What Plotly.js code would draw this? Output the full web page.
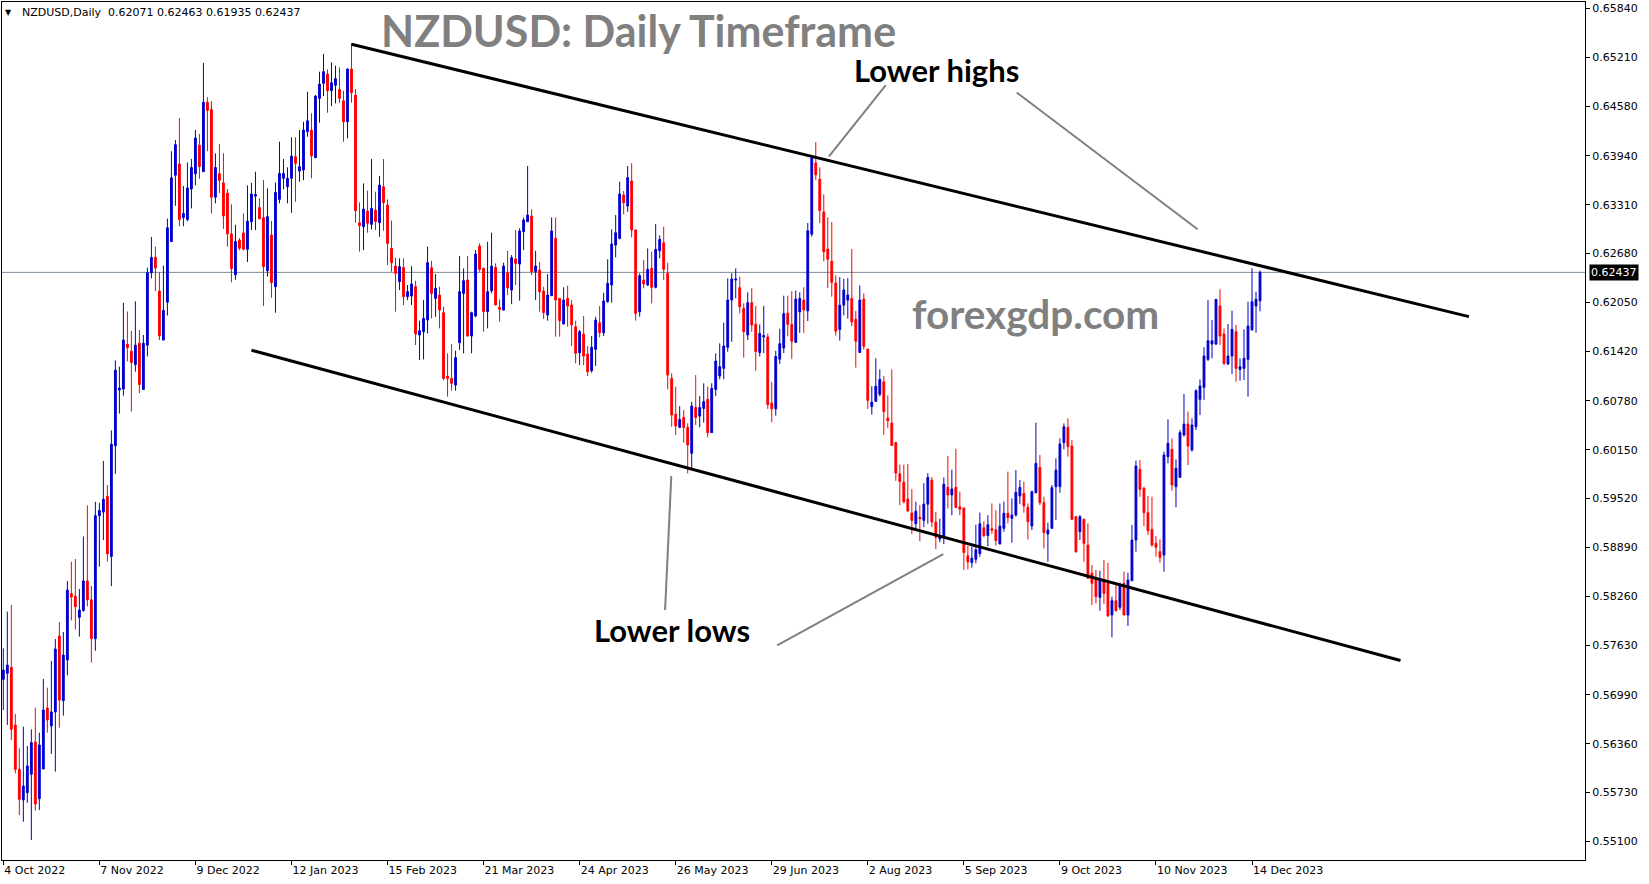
<!DOCTYPE html>
<html>
<head>
<meta charset="utf-8">
<script src="https://cdn.plot.ly/plotly-3.0.1.min.js"></script>
<style>
html,body{margin:0;padding:0;background:#fff;overflow:hidden;}
#chart{width:1649px;height:884px;}
</style>
</head>
<body>
<div id="chart"></div>
<script>
// ---- Data (NZDUSD daily bars) ----
const symbolHeader = "NZDUSD,Daily\u00a0\u00a00.62071 0.62463 0.61935 0.62437";
const currentPrice = 0.62437;

const openPrices = [
0.57189,0.57267,0.57344,0.56601,0.56029,0.55634,0.55728,0.55965,0.56381,0.55651,
0.56033,0.56820,0.56588,0.56768,0.57748,0.56914,0.57438,0.58294,0.58261,0.57989,
0.58077,0.58458,0.58215,0.57715,0.59300,0.59346,0.59551,0.58774,0.60202,0.60919,
0.60932,0.61511,0.61419,0.61248,0.61524,0.60926,0.61498,0.62432,0.62630,0.62196,
0.61564,0.62051,0.62834,0.63689,0.63834,0.63143,0.63117,0.63512,0.63709,0.64077,
0.63735,0.64630,0.64538,0.63406,0.63709,0.63591,0.63459,0.62933,0.62406,0.62854,
0.62946,0.62735,0.63090,0.63420,0.63271,0.63142,0.62458,0.62918,0.62252,0.63378,
0.63649,0.63541,0.63649,0.63928,0.63743,0.63756,0.64251,0.64272,0.63915,0.64680,
0.64874,0.64994,0.64779,0.64848,0.64796,0.64650,0.64379,0.65059,0.64723,0.63077,
0.63026,0.63228,0.63056,0.63241,0.63077,0.63541,0.63305,0.62746,0.62519,0.62317,
0.62501,0.62123,0.62132,0.62252,0.61629,0.61672,0.61822,0.62497,0.62102,0.62145,
0.61917,0.61100,0.61070,0.60984,0.61530,0.62166,0.62338,0.61616,0.61874,0.62776,
0.62488,0.61930,0.62200,0.62501,0.61986,0.61951,0.62433,0.62209,0.62609,0.62544,
0.62961,0.63090,0.63163,0.62446,0.62467,0.62196,0.61887,0.62136,0.62875,0.62102,
0.61771,0.62102,0.62016,0.61736,0.61401,0.61642,0.61384,0.61169,0.61444,0.61788,
0.61659,0.62059,0.62274,0.62789,0.62875,0.63434,0.63292,0.63615,0.62983,0.61930,
0.62338,0.62274,0.62489,0.62244,0.62716,0.62819,0.62424,0.61070,0.60606,0.60438,
0.60567,0.60438,0.60103,0.60696,0.60584,0.60683,0.60799,0.60370,0.60928,0.61100,
0.61199,0.61470,0.62080,0.62338,0.62239,0.61973,0.61629,0.62046,0.61766,0.61404,
0.61604,0.61604,0.60751,0.60677,0.61317,0.61461,0.61910,0.61766,0.61535,0.61927,
0.62079,0.61940,0.62929,0.63848,0.63639,0.63216,0.62737,0.62580,0.62301,0.61700,
0.62014,0.62079,0.62101,0.61831,0.61404,0.62092,0.61448,0.60707,0.60773,0.60864,
0.61025,0.60559,0.60494,0.60241,0.59840,0.59732,0.59514,0.59335,0.59196,0.59279,
0.59239,0.59448,0.59758,0.59218,0.59000,0.59013,0.59666,0.59566,0.59666,0.59414,
0.59400,0.58782,0.58695,0.58738,0.58812,0.59144,0.59043,0.59131,0.59118,0.58934,
0.59136,0.59330,0.59265,0.59308,0.59553,0.59587,0.59407,0.59166,0.59596,0.59923,
0.59467,0.59063,0.59136,0.59673,0.59673,0.60241,0.60438,0.60198,0.59287,0.59093,
0.59252,0.58921,0.58556,0.58491,0.58246,0.58470,0.58427,0.58019,0.58204,0.58118,
0.58427,0.58019,0.58461,0.58986,0.59897,0.59652,0.59338,0.59123,0.58943,0.58835,
0.58792,0.60060,0.60155,0.59673,0.59794,0.60340,0.60481,0.60146,0.60447,0.60799,
0.60954,0.61315,0.61513,0.61513,0.62003,0.61642,0.61255,0.61358,0.61672,0.61186,
0.61199,0.61315,0.61693,0.62003,0.62071
];

const highPrices = [
0.57589,0.58062,0.58148,0.56742,0.56300,0.56579,0.56330,0.56545,0.56824,0.56502,
0.57194,0.57082,0.57426,0.57709,0.57929,0.57800,0.58458,0.58705,0.58741,0.58354,
0.59031,0.59432,0.58393,0.59478,0.59465,0.60005,0.59695,0.60399,0.61301,0.61222,
0.62044,0.61932,0.61682,0.62064,0.61696,0.61630,0.62498,0.62893,0.62768,0.62439,
0.62525,0.63130,0.63999,0.64143,0.64426,0.63551,0.63854,0.63900,0.64275,0.64222,
0.65137,0.64696,0.64643,0.63972,0.64091,0.63972,0.63512,0.63314,0.63051,0.62880,
0.63196,0.63558,0.63591,0.63735,0.63391,0.63627,0.63520,0.63099,0.63597,0.64122,
0.63898,0.63791,0.64178,0.64178,0.64272,0.64379,0.64766,0.64487,0.64723,0.65024,
0.65252,0.65054,0.65145,0.65102,0.65080,0.64779,0.65067,0.65390,0.64800,0.63339,
0.63584,0.63490,0.63898,0.63477,0.63679,0.63898,0.63378,0.63103,0.62626,0.62617,
0.62617,0.62274,0.62518,0.62330,0.61814,0.62080,0.62768,0.62587,0.62415,0.62252,
0.61994,0.61393,0.61513,0.61427,0.62647,0.62488,0.62647,0.61930,0.62725,0.62811,
0.62501,0.62832,0.62948,0.62553,0.62089,0.62562,0.62716,0.62660,0.62983,0.63004,
0.63146,0.63808,0.63249,0.62716,0.62574,0.62252,0.62416,0.63146,0.63146,0.62102,
0.62244,0.62265,0.62080,0.61814,0.61694,0.61874,0.61487,0.61616,0.61865,0.62003,
0.62175,0.62605,0.62991,0.63176,0.63606,0.63486,0.63808,0.63843,0.62991,0.62424,
0.62596,0.62746,0.62703,0.63060,0.62914,0.63026,0.62562,0.61135,0.60963,0.60713,
0.60662,0.60490,0.60769,0.61113,0.60842,0.61006,0.60963,0.61006,0.61393,0.61522,
0.61788,0.62360,0.62424,0.62489,0.62381,0.62037,0.62179,0.62232,0.62005,0.61766,
0.62005,0.61648,0.61025,0.61426,0.61709,0.62136,0.62136,0.62193,0.62202,0.62180,
0.62245,0.63073,0.63931,0.64118,0.63791,0.63443,0.63147,0.63086,0.62397,0.62376,
0.62354,0.62362,0.62737,0.61940,0.62267,0.62166,0.61448,0.60969,0.61330,0.61186,
0.61100,0.60851,0.61186,0.60254,0.59958,0.59958,0.59967,0.59644,0.59479,0.59435,
0.59718,0.59849,0.59797,0.59348,0.59261,0.59793,0.60067,0.59893,0.60163,0.59610,
0.59400,0.58913,0.58904,0.59183,0.59340,0.59226,0.59305,0.59457,0.59370,0.59457,
0.59480,0.59867,0.59523,0.59888,0.59759,0.59738,0.59458,0.59622,0.60499,0.60082,
0.59544,0.59209,0.59695,0.60039,0.60297,0.60490,0.60555,0.60275,0.59295,0.59308,
0.59265,0.59201,0.58663,0.58599,0.58590,0.58728,0.58693,0.58255,0.58418,0.58436,
0.58577,0.58564,0.59179,0.60009,0.60017,0.59673,0.59553,0.59544,0.59037,0.58994,
0.60125,0.60542,0.60297,0.60026,0.60404,0.60868,0.60641,0.60555,0.60928,0.61057,
0.61470,0.62080,0.61822,0.62089,0.62218,0.61715,0.61771,0.61943,0.61758,0.61328,
0.61702,0.62059,0.62489,0.62188,0.62463
];

const lowPrices = [
0.56794,0.56601,0.56407,0.55977,0.55440,0.55354,0.55599,0.55118,0.55496,0.55505,
0.56033,0.56502,0.56227,0.55999,0.56566,0.56721,0.57241,0.57950,0.57830,0.57740,
0.58063,0.58129,0.57406,0.57557,0.58642,0.58985,0.58708,0.58392,0.59840,0.60616,
0.60847,0.61288,0.60643,0.61156,0.60880,0.60926,0.61353,0.62360,0.62196,0.61564,
0.61564,0.61880,0.62834,0.63295,0.63031,0.63031,0.63097,0.63262,0.63558,0.63643,
0.63735,0.63999,0.63196,0.63327,0.63459,0.62998,0.62768,0.62308,0.62340,0.62722,
0.62722,0.62571,0.62983,0.62983,0.63120,0.62004,0.62381,0.62110,0.61917,0.63327,
0.63507,0.63327,0.63206,0.63348,0.63606,0.63627,0.64186,0.63649,0.63915,0.64367,
0.64710,0.64495,0.64582,0.64616,0.64625,0.64122,0.64165,0.64625,0.63077,0.62703,
0.62725,0.62948,0.62991,0.62982,0.62897,0.62974,0.62531,0.62445,0.61930,0.62209,
0.62016,0.62080,0.62016,0.61500,0.61307,0.61315,0.61650,0.61844,0.61865,0.61715,
0.61050,0.60834,0.60911,0.60911,0.61436,0.61393,0.61608,0.61393,0.61857,0.62445,
0.61672,0.61715,0.62166,0.62016,0.61801,0.61943,0.62145,0.62029,0.62274,0.62072,
0.62725,0.63090,0.62403,0.62080,0.61930,0.61835,0.61814,0.62136,0.61608,0.61608,
0.61771,0.61737,0.61487,0.61264,0.61242,0.61242,0.61100,0.61143,0.61229,0.61599,
0.61616,0.62046,0.62046,0.62630,0.62862,0.63185,0.63219,0.62888,0.61814,0.61865,
0.62231,0.62261,0.62037,0.62230,0.62618,0.62338,0.60928,0.60447,0.60340,0.60438,
0.60241,0.59845,0.59910,0.60469,0.60438,0.60499,0.60310,0.60370,0.60842,0.61058,
0.61058,0.61414,0.61543,0.62102,0.61908,0.61337,0.61565,0.61672,0.61169,0.61352,
0.61395,0.60677,0.60503,0.60590,0.61256,0.61395,0.61613,0.61321,0.61526,0.61657,
0.61657,0.61810,0.62898,0.63626,0.63073,0.62580,0.62236,0.62123,0.61622,0.61557,
0.61883,0.61840,0.61744,0.61208,0.61404,0.61439,0.60677,0.60603,0.60773,0.60838,
0.60342,0.60428,0.60206,0.59749,0.59435,0.59457,0.59348,0.59065,0.59122,0.58969,
0.59152,0.59196,0.59152,0.58869,0.58956,0.58934,0.59392,0.59305,0.59400,0.59305,
0.58599,0.58607,0.58629,0.58686,0.58769,0.59022,0.58904,0.59065,0.58913,0.58934,
0.59093,0.59201,0.58951,0.59287,0.59450,0.59338,0.58994,0.59115,0.59588,0.59437,
0.58878,0.58706,0.59136,0.59244,0.59596,0.60155,0.60060,0.59244,0.58822,0.58986,
0.58706,0.58491,0.58148,0.58169,0.58074,0.58161,0.57997,0.57731,0.58062,0.58083,
0.58019,0.57877,0.58461,0.58835,0.59544,0.59166,0.59050,0.58900,0.58771,0.58693,
0.58577,0.59974,0.59622,0.59407,0.59794,0.60320,0.59953,0.60125,0.60404,0.60597,
0.60791,0.61294,0.61328,0.61500,0.61500,0.61242,0.61242,0.61126,0.61027,0.61040,
0.61049,0.60834,0.61693,0.61659,0.61935
];

const closePrices = [
0.57310,0.57374,0.56545,0.56029,0.55642,0.55814,0.56072,0.56373,0.55582,0.56343,
0.56794,0.56665,0.56768,0.57580,0.56923,0.57503,0.58340,0.58250,0.58126,0.58083,
0.58458,0.58215,0.57715,0.59300,0.59366,0.59511,0.58807,0.60222,0.61176,0.60945,
0.61564,0.61465,0.61275,0.61498,0.60991,0.61524,0.62432,0.62630,0.62492,0.61617,
0.61946,0.63012,0.63656,0.64084,0.63117,0.63196,0.63525,0.63788,0.64170,0.63801,
0.64630,0.64525,0.63406,0.63788,0.63623,0.63163,0.62933,0.62485,0.62834,0.62748,
0.62735,0.63097,0.63447,0.63440,0.63129,0.62510,0.63155,0.62304,0.63468,0.63713,
0.63713,0.63649,0.63937,0.63842,0.63799,0.64272,0.64392,0.63937,0.64710,0.64865,
0.65024,0.64779,0.64882,0.64934,0.64680,0.64379,0.65059,0.64753,0.63232,0.63039,
0.63253,0.63069,0.63262,0.63090,0.63563,0.63335,0.62811,0.62561,0.62424,0.62510,
0.62123,0.62188,0.62287,0.61642,0.61685,0.61844,0.62562,0.62166,0.62231,0.61951,
0.61070,0.61070,0.61006,0.61337,0.62188,0.62330,0.61616,0.61917,0.62673,0.62476,
0.61930,0.62188,0.62518,0.62016,0.61960,0.62519,0.62239,0.62626,0.62553,0.62970,
0.63112,0.63176,0.62446,0.62519,0.62188,0.61917,0.62145,0.62970,0.62080,0.61814,
0.62080,0.62003,0.61758,0.61393,0.61672,0.61358,0.61156,0.61470,0.61822,0.61659,
0.62068,0.62295,0.62802,0.62948,0.63447,0.63335,0.63658,0.62983,0.61908,0.62394,
0.62287,0.62476,0.62244,0.62734,0.62862,0.62476,0.61113,0.60597,0.60456,0.60541,
0.60438,0.60211,0.60713,0.60567,0.60696,0.60769,0.60370,0.60941,0.61294,0.61221,
0.61487,0.62080,0.62351,0.62351,0.61994,0.61672,0.62046,0.61758,0.61417,0.61648,
0.61622,0.60733,0.60677,0.61352,0.61517,0.61905,0.61766,0.61548,0.62092,0.62101,
0.61953,0.62972,0.63913,0.63695,0.63234,0.62702,0.62606,0.62310,0.61679,0.62014,
0.62210,0.62145,0.61796,0.61548,0.62079,0.61483,0.60786,0.60764,0.60969,0.61056,
0.60642,0.60524,0.60206,0.59849,0.59740,0.59479,0.59361,0.59239,0.59357,0.59261,
0.59448,0.59793,0.59218,0.59022,0.59035,0.59706,0.59566,0.59645,0.59405,0.59383,
0.58826,0.58704,0.58751,0.58860,0.59196,0.59043,0.59183,0.59113,0.58978,0.59165,
0.59330,0.59274,0.59308,0.59600,0.59665,0.59424,0.59222,0.59609,0.59974,0.59467,
0.59080,0.59115,0.59661,0.59888,0.60224,0.60447,0.60189,0.59252,0.58835,0.59287,
0.58943,0.58491,0.58427,0.58255,0.58470,0.58298,0.58006,0.58204,0.58075,0.58405,
0.58019,0.58470,0.58985,0.59940,0.59639,0.59338,0.59106,0.58921,0.58891,0.58762,
0.60082,0.60232,0.59695,0.59910,0.60370,0.60481,0.60198,0.60469,0.60911,0.60971,
0.61358,0.61556,0.61556,0.62089,0.61616,0.61264,0.61358,0.61702,0.61199,0.61221,
0.61328,0.61745,0.62059,0.62089,0.62437
];

// date labels every 24 bars
const dateLabelBars = [0,24,48,72,96,120,144,168,192,216,240,264,288,312];
const dateLabels = ["4 Oct 2022","7 Nov 2022","9 Dec 2022","12 Jan 2023","15 Feb 2023","21 Mar 2023",
  "24 Apr 2023","26 May 2023","29 Jun 2023","2 Aug 2023","5 Sep 2023","9 Oct 2023","10 Nov 2023","14 Dec 2023"];

const priceTicks = [0.55100,0.55730,0.56360,0.56990,0.57630,0.58260,0.58890,0.59520,0.60150,
  0.60780,0.61420,0.62050,0.62680,0.63310,0.63940,0.64580,0.65210,0.65840];
const priceTickText = priceTicks.map(v => v.toFixed(5));

// drawn trendlines (bar index, price)
const upperTrendBars = [87, 366.2];
const upperTrendPrices = [0.65378, 0.61866];
const lowerTrendBars = [62, 349.1];
const lowerTrendPrices = [0.61433, 0.57432];

// pointer lines for the notes
const pointerLines = [
  {bars:[220.5, 206.3], prices:[0.64850, 0.63931]},
  {bars:[253.2, 298.4], prices:[0.64756, 0.62992]},
  {bars:[166.9, 165.35], prices:[0.59811, 0.58084]},
  {bars:[193.35, 234.85], prices:[0.57628, 0.58804]}
];

const notes = [
  {text:"NZDUSD: Daily Timeframe", bar:158.7, price:0.65561, size:43, color:"#808080"},
  {text:"forexgdp.com", bar:257.9, price:0.61913, size:40.5, color:"#808080"},
  {text:"Lower highs", bar:233.05, price:0.65052, size:31, color:"#000000"},
  {text:"Lower lows", bar:167.2, price:0.57826, size:31, color:"#000000"}
];

// ---- Chart ----
const barIndex = openPrices.map((_, i) => i);
const tickFont = {family: "DejaVu Sans, Verdana, sans-serif", size: 11, color: "#000"};

const trace = {
  type: "candlestick",
  x: barIndex,
  open: openPrices, high: highPrices, low: lowPrices, close: closePrices,
  increasing: {line: {color: "#0000cd", width: 1}, fillcolor: "#0000cd"},
  decreasing: {line: {color: "#ff0000", width: 1}, fillcolor: "#ff0000"},
  whiskerwidth: 0,
  hoverinfo: "skip",
  showlegend: false
};

const shapes = [
  {type:"line", xref:"paper", yref:"y", x0:0, x1:1, y0:currentPrice, y1:currentPrice,
   line:{color:"#7a8a9a", width:1}, layer:"below"},
  {type:"line", xref:"x", yref:"y", x0:upperTrendBars[0], x1:upperTrendBars[1],
   y0:upperTrendPrices[0], y1:upperTrendPrices[1], line:{color:"#000", width:3}},
  {type:"line", xref:"x", yref:"y", x0:lowerTrendBars[0], x1:lowerTrendBars[1],
   y0:lowerTrendPrices[0], y1:lowerTrendPrices[1], line:{color:"#000", width:3}}
];
pointerLines.forEach(p => shapes.push({type:"line", xref:"x", yref:"y",
  x0:p.bars[0], x1:p.bars[1], y0:p.prices[0], y1:p.prices[1],
  line:{color:"#808080", width:2}}));

const annotations = notes.map(n => ({
  xref:"x", yref:"y", x:n.bar, y:n.price, xanchor:"center", yanchor:"middle",
  showarrow:false, text:"<b>"+n.text+"</b>",
  font:{family:"Lato, 'Open Sans', sans-serif", size:n.size, color:n.color}
}));
annotations.push({xref:"paper", yref:"paper", x:0, y:1, xanchor:"left", yanchor:"top",
  xshift:1, yshift:-4, showarrow:false, text:"\u25BC",
  font:{family:"DejaVu Sans, sans-serif", size:8, color:"#000"}});
annotations.push({xref:"paper", yref:"paper", x:0, y:1, xanchor:"left", yanchor:"top",
  xshift:18, yshift:-2, showarrow:false, text:symbolHeader,
  font:{family:"DejaVu Sans, Verdana, sans-serif", size:11, color:"#000"}});
annotations.push({xref:"paper", yref:"y", x:1, y:currentPrice, xanchor:"left", yanchor:"middle",
  xshift:4, showarrow:false, text:currentPrice.toFixed(5), bgcolor:"#000", borderpad:1,
  font:{family:"DejaVu Sans, Verdana, sans-serif", size:11, color:"#fff"}});

const layout = {
  width: 1649, height: 884,
  margin: {l: 2, r: 64, t: 2, b: 24, pad: 0},
  paper_bgcolor: "#fff", plot_bgcolor: "#fff",
  showlegend: false,
  boxgap: 0.35,
  xaxis: {
    range: [-0.33, 395.2], rangeslider: {visible: false},
    showgrid: false, zeroline: false,
    showline: true, linecolor: "#000", linewidth: 1, mirror: true,
    ticks: "outside", ticklen: 4, tickcolor: "#000", tickwidth: 1,
    tickmode: "array", tickvals: dateLabelBars, ticktext: dateLabels,
    ticklabelposition: "outside right",
    tickfont: tickFont, fixedrange: true
  },
  yaxis: {
    side: "right",
    range: [0.54860, 0.65923],
    showgrid: false, zeroline: false,
    showline: true, linecolor: "#000", linewidth: 1, mirror: true,
    ticks: "outside", ticklen: 4, tickcolor: "#000", tickwidth: 1,
    tickmode: "array", tickvals: priceTicks, ticktext: priceTickText,
    tickfont: tickFont, fixedrange: true
  },
  shapes: shapes,
  annotations: annotations
};

Plotly.newPlot("chart", [trace], layout, {staticPlot: true, displayModeBar: false});
</script>
</body>
</html>
